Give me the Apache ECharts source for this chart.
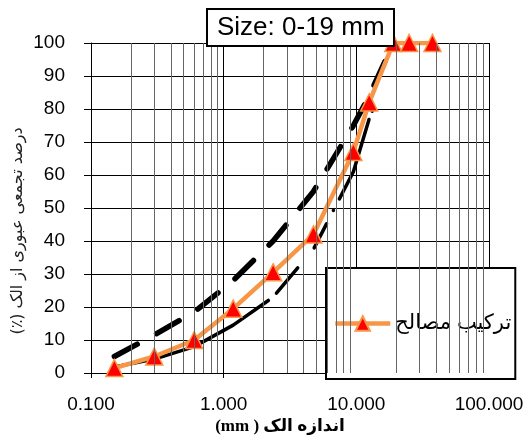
<!DOCTYPE html>
<html>
<head>
<meta charset="utf-8">
<script src="https://cdn.jsdelivr.net/npm/echarts@6/dist/echarts.min.js"></script>
<style>
html, body { margin: 0; padding: 0; background: #fff; }
#chart { width: 523px; height: 436px; }
</style>
</head>
<body>
<div id="chart"></div>
<script>
// sieve sizes (mm) and cumulative passing (%)
var sieveSizes = [0.15, 0.3, 0.6, 1.18, 2.36, 4.75, 9.5, 12.5, 19, 25, 37.5];
var mixPassing = [1.5, 5, 10, 19.5, 30.5, 42, 67, 82, 100, 100, 100];

var limitSizes = [0.15, 0.3, 0.6, 1.18, 2.36, 4.75, 9.5, 12.5, 19];
var upperLimit = [5, 11.5, 18.5, 28, 40, 55, 75, 84, 100];
var lowerLimit = [1.8, 4.2, 8, 14.5, 23, 37.5, 61, 77, 96];

var minorGrid = [0.2, 0.3, 0.4, 0.5, 0.6, 0.7, 0.8, 0.9,
                 2, 3, 4, 5, 6, 7, 8, 9,
                 20, 30, 40, 50, 60, 70, 80, 90];

var mixName = 'ترکیب مصالح';
var titleText = 'Size: 0-19 mm';
var yTitle = 'درصد تجمعی عبوری از الک (٪)\u200F';
var xTitle = '\u202Bاندازه الک ( mm)\u202C';

function pairs(xs, ys) {
    var out = [];
    for (var i = 0; i < xs.length; i++) out.push([xs[i], ys[i]]);
    return out;
}

var font = "'Liberation Sans', 'DejaVu Sans', Arial, sans-serif";

var myChart = echarts.init(document.getElementById('chart'));
var option = {
    animation: false,
    backgroundColor: '#fff',
    title: {
        text: titleText,
        left: 207, top: 9,
        padding: [6, 10, 5, 10],
        borderWidth: 2, borderColor: '#000', backgroundColor: '#fff',
        textStyle: { fontFamily: font, fontSize: 26, fontWeight: 'normal', color: '#000' }
    },
    legend: {
        data: [mixName],
        left: 326, top: 268,
        padding: [45, 4, 45, 7],
        itemWidth: 55, itemHeight: 18,
        borderWidth: 2, borderColor: '#000', backgroundColor: '#fff',
        lineStyle: { width: 4.5 },
        textStyle: { fontFamily: font, fontSize: 21, color: '#000' }
    },
    grid: { left: 91, right: 34, top: 43, bottom: 63, outerBoundsMode: 'none' },
    xAxis: {
        type: 'log', logBase: 10, min: 0.1, max: 100,
        axisLine: { onZero: false, lineStyle: { color: '#000', width: 1 } },
        axisTick: { show: true, length: 5, lineStyle: { color: '#000' } },
        axisLabel: {
            margin: 22, fontFamily: font, fontSize: 19, color: '#000',
            hideOverlap: false,
            formatter: function (v) { return v.toFixed(3); }
        },
        splitLine: { show: true, lineStyle: { color: '#000', width: 1 } }
    },
    yAxis: {
        type: 'value', min: 0, max: 100, interval: 10,
        axisLine: { show: true, onZero: false, lineStyle: { color: '#000', width: 1 } },
        axisTick: { show: true, length: 7, lineStyle: { color: '#000' } },
        axisLabel: { margin: 26, fontFamily: font, fontSize: 19, color: '#000' },
        splitLine: { show: true, lineStyle: { color: '#000', width: 1 } }
    },
    graphic: [
        {
            type: 'text', x: 18, y: 231, rotation: Math.PI / 2,
            style: {
                text: yTitle, fill: '#222',
                font: "16px 'DejaVu Sans', sans-serif",
                align: 'center', verticalAlign: 'middle'
            }
        },
        {
            type: 'text', x: 280, y: 427,
            style: {
                text: xTitle, fill: '#000',
                font: "bold 17px 'Liberation Serif', 'DejaVu Sans', serif",
                align: 'center', verticalAlign: 'middle'
            }
        }
    ],
    series: [
        {
            name: 'grid', type: 'line', data: [], z: 1, silent: true,
            markLine: {
                silent: true, symbol: 'none', label: { show: false },
                lineStyle: { color: '#666', width: 1, type: 'solid' },
                data: minorGrid.map(function (v) { return { xAxis: v }; })
            }
        },
        {
            name: 'lower', type: 'line', data: pairs(limitSizes, lowerLimit),
            showSymbol: false, symbol: 'none', z: 3,
            lineStyle: { color: '#000', width: 3.5, cap: 'round',
                type: [170, 11, 33, 26, 27, 15, 0.1, 13, 85, 9, 0.1, 100] }
        },
        {
            name: 'upper', type: 'line', data: pairs(limitSizes, upperLimit),
            showSymbol: false, symbol: 'none', z: 3,
            lineStyle: { color: '#000', width: 5.5, cap: 'round', type: [26, 22] }
        },
        {
            name: mixName, type: 'line', data: pairs(sieveSizes, mixPassing), z: 4,
            symbol: 'triangle', symbolSize: 17,
            lineStyle: { color: '#F79646', width: 4.5 },
            itemStyle: { color: '#FF0000', borderColor: '#F79646', borderWidth: 1.5 }
        }
    ]
};
myChart.setOption(option);
</script>
</body>
</html>
